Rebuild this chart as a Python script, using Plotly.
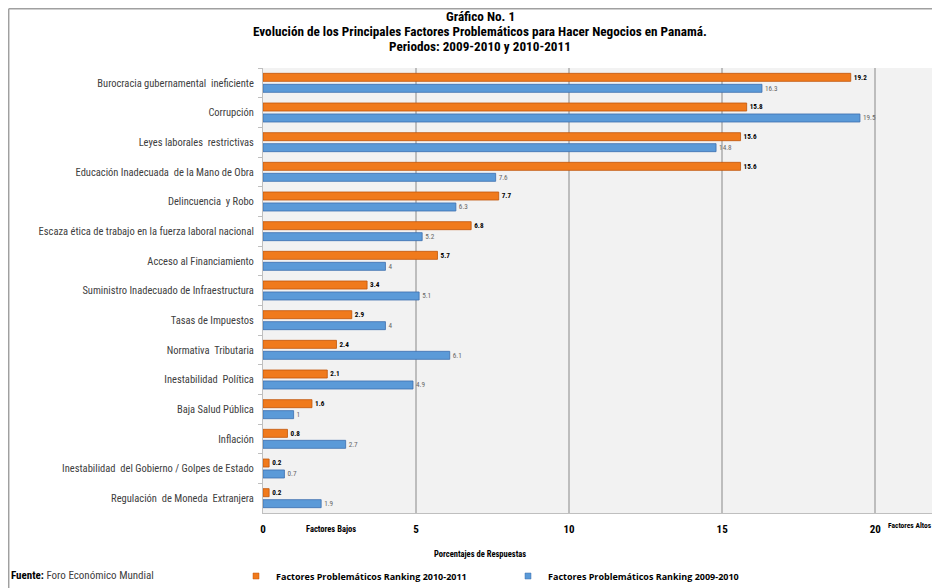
import plotly.graph_objects as go

categories = [
    "Burocracia gubernamental  ineficiente",
    "Corrupción",
    "Leyes laborales  restrictivas",
    "Educación Inadecuada  de la Mano de Obra",
    "Delincuencia  y Robo",
    "Escaza ética de trabajo en la fuerza laboral nacional",
    "Acceso al Financiamiento",
    "Suministro Inadecuado de Infraestructura",
    "Tasas de Impuestos",
    "Normativa  Tributaria",
    "Inestabilidad  Política",
    "Baja Salud Pública",
    "Inflación",
    "Inestabilidad  del Gobierno / Golpes de Estado",
    "Regulación  de Moneda  Extranjera",
]
ranking_2010_2011 = [19.2, 15.8, 15.6, 15.6, 7.7, 6.8, 5.7, 3.4, 2.9, 2.4, 2.1, 1.6, 0.8, 0.2, 0.2]
ranking_2009_2010 = [16.3, 19.5, 14.8, 7.6, 6.3, 5.2, 4, 5.1, 4, 6.1, 4.9, 1, 2.7, 0.7, 1.9]
x_ticks = [0, 5, 10, 15, 20]
series_names = ["Factores Problemáticos Ranking 2010-2011", "Factores Problemáticos Ranking 2009-2010"]
title_lines = [
    "Gráfico No. 1",
    "Evolución de los Principales Factores Problemáticos para Hacer Negocios en Panamá.",
    "Periodos: 2009-2010 y 2010-2011",
]

NARROW = "Liberation Sans Narrow, Arial Narrow, Roboto Condensed, DejaVu Sans Condensed, sans-serif"
ORANGE, ORANGE_EDGE = "#f07a1c", "#c2560a"
BLUE, BLUE_EDGE = "#5b9ad8", "#3c6fae"

# the page places the figure 8px from the window's top-left corner
OFF = 8
W, H = 940 - OFF, 588 - OFF
# plot area in window pixels: x 263..938, y 68..513
L, T = 263 - OFF, 68 - OFF
R = W - (938 - OFF)
B = H - (513 - OFF)
PW, PH = W - L - R, H - T - B


def px_x(px):  # window pixel -> paper coordinate
    return (px - OFF - L) / PW


def px_y(py):
    return (H - B - (py - OFF)) / PH


fig = go.Figure()
fig.add_trace(go.Bar(
    y=categories, x=ranking_2010_2011, orientation="h",
    name=series_names[0], showlegend=False,
    marker=dict(color=ORANGE, line=dict(color=ORANGE_EDGE, width=0.8)),
    texttemplate="<b>%{x}</b>", textposition="outside",
    textfont=dict(family=NARROW, size=9, color="#000000"),
    cliponaxis=False,
))
fig.add_trace(go.Bar(
    y=categories, x=ranking_2009_2010, orientation="h",
    name=series_names[1], showlegend=False,
    marker=dict(color=BLUE, line=dict(color=BLUE_EDGE, width=0.8)),
    texttemplate="%{x}", textposition="outside",
    textfont=dict(family=NARROW, size=9, color="#666666"),
    cliponaxis=False,
))
# legend-only entries with small square markers
for nm, col, edge in [(series_names[0], ORANGE, ORANGE_EDGE), (series_names[1], BLUE, BLUE_EDGE)]:
    fig.add_trace(go.Scatter(
        x=[None], y=[None], mode="markers", name="<b>" + nm + "</b>",
        marker=dict(symbol="square", size=6, color=col, line=dict(color=edge, width=0.5)),
        showlegend=True, hoverinfo="skip",
    ))

fig.update_layout(
    width=W, height=H,
    margin=dict(l=L, r=R, t=T, b=B, autoexpand=False),
    paper_bgcolor="#ffffff",
    plot_bgcolor="#f2f2f2",
    barmode="group",
    bargap=0.26,
    bargroupgap=0.27,
    legend=dict(
        orientation="h", xref="container", yref="container",
        x=(236 - OFF) / W, xanchor="left", y=(H - (576 - OFF)) / H, yanchor="middle",
        entrywidth=227, entrywidthmode="pixels",
        font=dict(family="Open Sans, sans-serif", size=9, color="#000000"),
        itemwidth=30, bgcolor="rgba(0,0,0,0)",
    ),
    showlegend=True,
    xaxis=dict(
        range=[0, 22.05], tickvals=x_ticks,
        ticktext=["<b>%d</b>" % v for v in x_ticks],
        tickfont=dict(family=NARROW, size=11, color="#000000"),
        showgrid=True, gridcolor="#bdbdbd", gridwidth=1.5,
        zeroline=False, showline=True, linecolor="#bfbfbf", linewidth=1,
        ticks="", ticklabelstandoff=6, automargin=False,
    ),
    yaxis=dict(
        autorange="reversed",
        tickfont=dict(family=NARROW, size=10.5, color="#404040"),
        showline=True, linecolor="#bfbfbf", linewidth=1,
        ticks="outside", ticklen=4, tickcolor="#bfbfbf", tickson="boundaries",
        showgrid=False, ticklabelstandoff=6, automargin=False,
    ),
)

for line, py in zip(title_lines, [16.2, 31.4, 46.6]):
    fig.add_annotation(text="<b>" + line + "</b>", xref="paper", yref="paper",
                       x=px_x(480), y=px_y(py), xanchor="center", yanchor="middle",
                       showarrow=False, borderpad=0,
                       font=dict(family=NARROW, size=13.2, color="#000000"))

fig.add_annotation(text="<b>Porcentajes de Respuestas</b>", xref="paper", yref="paper",
                   x=px_x(480), y=px_y(554), xanchor="center", yanchor="middle", showarrow=False,
                   font=dict(family=NARROW, size=8.5, color="#000000"))
fig.add_annotation(text="<b>Factores Bajos</b>", xref="paper", yref="paper",
                   x=px_x(304), y=px_y(529), xanchor="left", yanchor="middle", showarrow=False,
                   font=dict(family=NARROW, size=8.5, color="#000000"))
fig.add_annotation(text="<b>Factores Altos</b>", xref="paper", yref="paper",
                   x=px_x(886), y=px_y(525), xanchor="left", yanchor="middle", showarrow=False,
                   font=dict(family=NARROW, size=7.5, color="#000000"))
fig.add_annotation(text="<b>Fuente:</b> <span style='color:#404040'>Foro Económico Mundial</span>",
                   xref="paper", yref="paper",
                   x=px_x(9), y=px_y(575), xanchor="left", yanchor="middle", showarrow=False,
                   font=dict(family=NARROW, size=11, color="#000000"))

fig.add_shape(type="line", xref="paper", yref="paper", x0=px_x(8.7), x1=px_x(8.7),
              y0=px_y(8.7), y1=px_y(600), line=dict(color="#a0a0a0", width=1.5))
fig.add_shape(type="line", xref="paper", yref="paper", x0=px_x(8.7), x1=px_x(940),
              y0=px_y(8.7), y1=px_y(8.7), line=dict(color="#a0a0a0", width=1.5))

fig.write_html("out.html")
